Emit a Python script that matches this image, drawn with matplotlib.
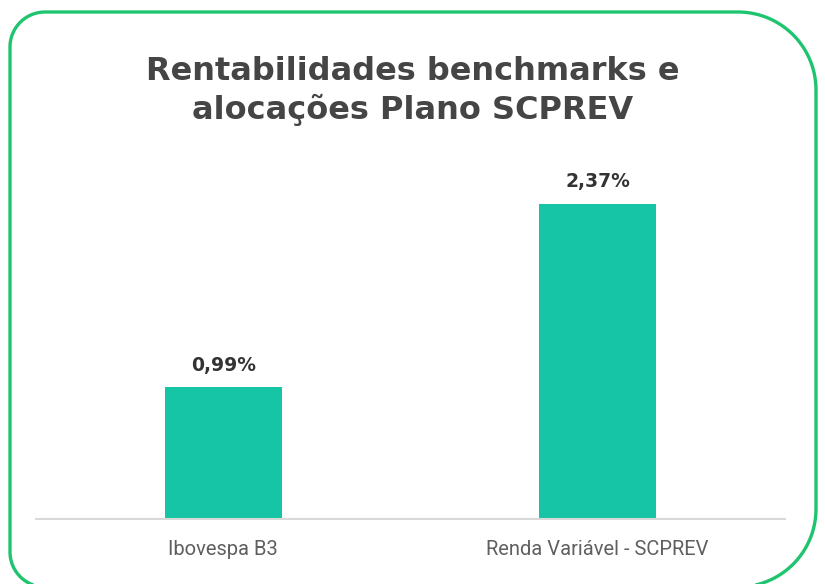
import numpy as np
import matplotlib.pyplot as plt
from matplotlib.path import Path
from matplotlib.patches import PathPatch

categories = ["Ibovespa B3", "Renda Variável - SCPREV"]
values = [0.99, 2.37]
value_labels = ["0,99%", "2,37%"]
title = "Rentabilidades benchmarks e\nalocações Plano SCPREV"

W, H = 825, 584
fig = plt.figure(figsize=(W / 100, H / 100), dpi=100)

# rounded frame with uneven corners (pixel coords, origin top-left)
def arc(cx, cy, r, a0, a1, n=30):
    t = np.radians(np.linspace(a0, a1, n))
    return list(zip(cx + r * np.cos(t), cy + r * np.sin(t)))

x0, x1, y0, y1 = 10, 816, 12, 587
rs, rb = 35, 78
pts = []
pts += arc(x0 + rs, y0 + rs, rs, 180, 270)      # top-left
pts += arc(x1 - rb, y0 + rb, rb, 270, 360)      # top-right
pts += arc(x1 - rb, y1 - rb, rb, 0, 90)         # bottom-right
pts += arc(x0 + rs, y1 - rs, rs, 90, 180)       # bottom-left
pts.append(pts[0])
pts = [(px / W, 1 - py / H) for px, py in pts]
frame = PathPatch(Path(pts), transform=fig.transFigure, fill=False,
                  edgecolor="#1fc46e", linewidth=2.4, clip_on=False)
fig.patches.append(frame)

fig.text(0.5, 1 - 91 / H, title, ha="center", va="center", fontsize=23,
         fontweight="bold", color="#454545", linespacing=1.3,
         family="DejaVu Sans")

ax = fig.add_axes([36 / W, 1 - 519 / H, 749 / W, 339 / H])
x = np.arange(len(categories))
bars = ax.bar(x, values, width=0.3125, color="#15c5a5")
for b, lab in zip(bars, value_labels):
    ax.annotate(lab, (b.get_x() + b.get_width() / 2, b.get_height()),
                xytext=(0, 9), textcoords="offset points", ha="center",
                va="bottom", fontsize=13.5, fontweight="bold",
                color="#333333", family="DejaVu Sans")

ax.set_xlim(-0.5, 1.5)
ax.set_ylim(0, 2.55)
ax.set_xticks(x)
ax.set_xticklabels(categories, fontsize=14.5, color="#5f5f5f", family="Roboto")
ax.tick_params(axis="x", length=0, pad=15)
ax.set_yticks([])
for s in ["top", "right", "left"]:
    ax.spines[s].set_visible(False)
ax.spines["bottom"].set_color("#d9d9d9")
ax.spines["bottom"].set_linewidth(1.5)

fig.savefig("out.png", dpi=100)
